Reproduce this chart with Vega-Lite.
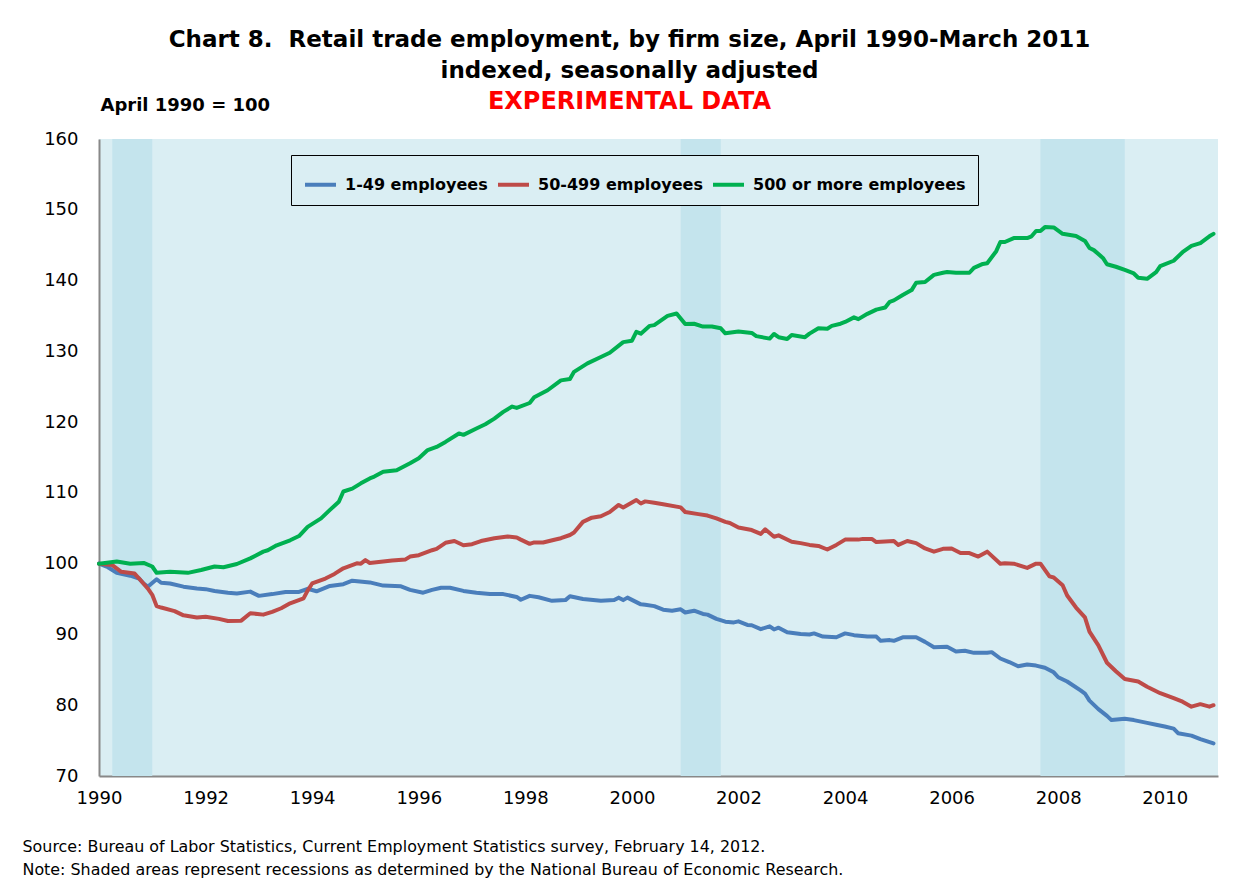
{
  "$schema": "https://vega.github.io/schema/vega-lite/v6.json",
  "width": 1119,
  "height": 637,
  "autosize": {"type": "none"},
  "padding": {"left": 99, "top": 139, "right": 37, "bottom": 114},
  "background": "white",
  "config": {
    "font": "DejaVu Sans",
    "view": {"fill": "#DAEEF3", "stroke": null},
    "axis": {"grid": false}
  },
  "title": {
    "text": ["Chart 8.\u00a0 Retail trade employment, by firm size, April 1990-March 2011", "indexed, seasonally adjusted"],
    "subtitle": "EXPERIMENTAL DATA",
    "font": "DejaVu Sans",
    "fontSize": 23,
    "fontWeight": "bold",
    "color": "black",
    "lineHeight": 31,
    "subtitleFont": "DejaVu Sans",
    "subtitleFontSize": 24,
    "subtitleFontWeight": "bold",
    "subtitleColor": "#FF0000",
    "subtitlePadding": 7,
    "anchor": "middle",
    "dx": -29,
    "offset": -18
  },
  "resolve": {"axis": {"x": "independent"}},
  "layer": [
    {
      "data": {"values": [
        {"start": "1990-07-01", "end": "1991-04-01"},
        {"start": "2001-03-01", "end": "2001-12-01"},
        {"start": "2007-12-01", "end": "2009-07-01"}
      ]},
      "mark": {"type": "rect", "color": "#C4E4ED"},
      "encoding": {
        "x": {"field": "start", "type": "temporal", "scale": {"type": "utc"}, "axis": null},
        "x2": {"field": "end"}
      }
    },
    {
      "data": {"values": [
        {"date":"1990-04","series":"1-49 employees","value":100.0},
        {"date":"1990-06","series":"1-49 employees","value":99.5},
        {"date":"1990-08","series":"1-49 employees","value":98.7},
        {"date":"1990-11","series":"1-49 employees","value":98.3},
        {"date":"1991-01","series":"1-49 employees","value":97.9},
        {"date":"1991-02","series":"1-49 employees","value":97.2},
        {"date":"1991-03","series":"1-49 employees","value":96.75},
        {"date":"1991-05","series":"1-49 employees","value":97.8},
        {"date":"1991-06","series":"1-49 employees","value":97.3},
        {"date":"1991-08","series":"1-49 employees","value":97.2},
        {"date":"1991-11","series":"1-49 employees","value":96.75},
        {"date":"1992-02","series":"1-49 employees","value":96.5},
        {"date":"1992-04","series":"1-49 employees","value":96.4},
        {"date":"1992-06","series":"1-49 employees","value":96.15},
        {"date":"1992-09","series":"1-49 employees","value":95.9},
        {"date":"1992-11","series":"1-49 employees","value":95.8},
        {"date":"1993-02","series":"1-49 employees","value":96.05},
        {"date":"1993-04","series":"1-49 employees","value":95.45},
        {"date":"1993-07","series":"1-49 employees","value":95.7},
        {"date":"1993-10","series":"1-49 employees","value":96.0},
        {"date":"1994-01","series":"1-49 employees","value":96.0},
        {"date":"1994-03","series":"1-49 employees","value":96.45},
        {"date":"1994-05","series":"1-49 employees","value":96.1},
        {"date":"1994-08","series":"1-49 employees","value":96.85},
        {"date":"1994-11","series":"1-49 employees","value":97.1},
        {"date":"1995-01","series":"1-49 employees","value":97.6},
        {"date":"1995-05","series":"1-49 employees","value":97.35},
        {"date":"1995-08","series":"1-49 employees","value":96.9},
        {"date":"1995-12","series":"1-49 employees","value":96.8},
        {"date":"1996-02","series":"1-49 employees","value":96.3},
        {"date":"1996-05","series":"1-49 employees","value":95.9},
        {"date":"1996-07","series":"1-49 employees","value":96.3},
        {"date":"1996-09","series":"1-49 employees","value":96.6},
        {"date":"1996-11","series":"1-49 employees","value":96.6},
        {"date":"1997-02","series":"1-49 employees","value":96.15},
        {"date":"1997-05","series":"1-49 employees","value":95.9},
        {"date":"1997-08","series":"1-49 employees","value":95.7},
        {"date":"1997-11","series":"1-49 employees","value":95.7},
        {"date":"1998-02","series":"1-49 employees","value":95.3},
        {"date":"1998-03","series":"1-49 employees","value":94.9},
        {"date":"1998-05","series":"1-49 employees","value":95.45},
        {"date":"1998-07","series":"1-49 employees","value":95.25},
        {"date":"1998-10","series":"1-49 employees","value":94.75},
        {"date":"1999-01","series":"1-49 employees","value":94.85},
        {"date":"1999-02","series":"1-49 employees","value":95.4},
        {"date":"1999-05","series":"1-49 employees","value":95.0},
        {"date":"1999-09","series":"1-49 employees","value":94.75},
        {"date":"1999-12","series":"1-49 employees","value":94.85},
        {"date":"2000-01","series":"1-49 employees","value":95.2},
        {"date":"2000-02","series":"1-49 employees","value":94.85},
        {"date":"2000-03","series":"1-49 employees","value":95.2},
        {"date":"2000-06","series":"1-49 employees","value":94.25},
        {"date":"2000-07","series":"1-49 employees","value":94.2},
        {"date":"2000-09","series":"1-49 employees","value":94.0},
        {"date":"2000-11","series":"1-49 employees","value":93.5},
        {"date":"2001-01","series":"1-49 employees","value":93.35},
        {"date":"2001-03","series":"1-49 employees","value":93.55},
        {"date":"2001-04","series":"1-49 employees","value":93.1},
        {"date":"2001-06","series":"1-49 employees","value":93.35},
        {"date":"2001-08","series":"1-49 employees","value":92.9},
        {"date":"2001-09","series":"1-49 employees","value":92.8},
        {"date":"2001-11","series":"1-49 employees","value":92.2},
        {"date":"2002-01","series":"1-49 employees","value":91.8},
        {"date":"2002-03","series":"1-49 employees","value":91.7},
        {"date":"2002-04","series":"1-49 employees","value":91.85},
        {"date":"2002-06","series":"1-49 employees","value":91.35},
        {"date":"2002-07","series":"1-49 employees","value":91.3},
        {"date":"2002-09","series":"1-49 employees","value":90.75},
        {"date":"2002-11","series":"1-49 employees","value":91.15},
        {"date":"2002-12","series":"1-49 employees","value":90.7},
        {"date":"2003-01","series":"1-49 employees","value":90.95},
        {"date":"2003-03","series":"1-49 employees","value":90.3},
        {"date":"2003-06","series":"1-49 employees","value":90.05},
        {"date":"2003-08","series":"1-49 employees","value":90.0},
        {"date":"2003-09","series":"1-49 employees","value":90.15},
        {"date":"2003-11","series":"1-49 employees","value":89.7},
        {"date":"2004-02","series":"1-49 employees","value":89.6},
        {"date":"2004-04","series":"1-49 employees","value":90.15},
        {"date":"2004-06","series":"1-49 employees","value":89.9},
        {"date":"2004-09","series":"1-49 employees","value":89.7},
        {"date":"2004-11","series":"1-49 employees","value":89.7},
        {"date":"2004-12","series":"1-49 employees","value":89.1},
        {"date":"2005-02","series":"1-49 employees","value":89.2},
        {"date":"2005-03","series":"1-49 employees","value":89.1},
        {"date":"2005-05","series":"1-49 employees","value":89.6},
        {"date":"2005-08","series":"1-49 employees","value":89.6},
        {"date":"2005-10","series":"1-49 employees","value":88.95},
        {"date":"2005-12","series":"1-49 employees","value":88.2},
        {"date":"2006-03","series":"1-49 employees","value":88.25},
        {"date":"2006-05","series":"1-49 employees","value":87.6},
        {"date":"2006-07","series":"1-49 employees","value":87.7},
        {"date":"2006-09","series":"1-49 employees","value":87.4},
        {"date":"2006-12","series":"1-49 employees","value":87.4},
        {"date":"2007-01","series":"1-49 employees","value":87.5},
        {"date":"2007-03","series":"1-49 employees","value":86.6},
        {"date":"2007-05","series":"1-49 employees","value":86.1},
        {"date":"2007-07","series":"1-49 employees","value":85.5},
        {"date":"2007-09","series":"1-49 employees","value":85.75},
        {"date":"2007-11","series":"1-49 employees","value":85.6},
        {"date":"2008-01","series":"1-49 employees","value":85.3},
        {"date":"2008-03","series":"1-49 employees","value":84.65},
        {"date":"2008-04","series":"1-49 employees","value":83.95},
        {"date":"2008-06","series":"1-49 employees","value":83.35},
        {"date":"2008-09","series":"1-49 employees","value":82.1},
        {"date":"2008-10","series":"1-49 employees","value":81.65},
        {"date":"2008-11","series":"1-49 employees","value":80.65},
        {"date":"2009-01","series":"1-49 employees","value":79.45},
        {"date":"2009-03","series":"1-49 employees","value":78.5},
        {"date":"2009-04","series":"1-49 employees","value":77.9},
        {"date":"2009-07","series":"1-49 employees","value":78.1},
        {"date":"2009-09","series":"1-49 employees","value":77.9},
        {"date":"2009-12","series":"1-49 employees","value":77.5},
        {"date":"2010-02","series":"1-49 employees","value":77.25},
        {"date":"2010-04","series":"1-49 employees","value":77.0},
        {"date":"2010-06","series":"1-49 employees","value":76.7},
        {"date":"2010-07","series":"1-49 employees","value":76.05},
        {"date":"2010-10","series":"1-49 employees","value":75.7},
        {"date":"2010-12","series":"1-49 employees","value":75.2},
        {"date":"2011-03","series":"1-49 employees","value":74.6},

        {"date":"1990-04","series":"50-499 employees","value":100.0},
        {"date":"1990-07","series":"50-499 employees","value":99.8},
        {"date":"1990-09","series":"50-499 employees","value":98.85},
        {"date":"1990-12","series":"50-499 employees","value":98.6},
        {"date":"1991-01","series":"50-499 employees","value":97.9},
        {"date":"1991-03","series":"50-499 employees","value":96.5},
        {"date":"1991-04","series":"50-499 employees","value":95.6},
        {"date":"1991-05","series":"50-499 employees","value":94.0},
        {"date":"1991-06","series":"50-499 employees","value":93.8},
        {"date":"1991-09","series":"50-499 employees","value":93.3},
        {"date":"1991-11","series":"50-499 employees","value":92.7},
        {"date":"1992-02","series":"50-499 employees","value":92.4},
        {"date":"1992-04","series":"50-499 employees","value":92.5},
        {"date":"1992-07","series":"50-499 employees","value":92.2},
        {"date":"1992-09","series":"50-499 employees","value":91.9},
        {"date":"1992-12","series":"50-499 employees","value":91.95},
        {"date":"1993-02","series":"50-499 employees","value":93.0},
        {"date":"1993-05","series":"50-499 employees","value":92.8},
        {"date":"1993-07","series":"50-499 employees","value":93.2},
        {"date":"1993-09","series":"50-499 employees","value":93.7},
        {"date":"1993-11","series":"50-499 employees","value":94.4},
        {"date":"1994-02","series":"50-499 employees","value":95.1},
        {"date":"1994-03","series":"50-499 employees","value":96.2},
        {"date":"1994-04","series":"50-499 employees","value":97.2},
        {"date":"1994-07","series":"50-499 employees","value":97.9},
        {"date":"1994-09","series":"50-499 employees","value":98.55},
        {"date":"1994-11","series":"50-499 employees","value":99.35},
        {"date":"1995-02","series":"50-499 employees","value":100.05},
        {"date":"1995-03","series":"50-499 employees","value":100.0},
        {"date":"1995-04","series":"50-499 employees","value":100.5},
        {"date":"1995-05","series":"50-499 employees","value":100.1},
        {"date":"1995-08","series":"50-499 employees","value":100.3},
        {"date":"1995-10","series":"50-499 employees","value":100.45},
        {"date":"1996-01","series":"50-499 employees","value":100.6},
        {"date":"1996-02","series":"50-499 employees","value":101.0},
        {"date":"1996-04","series":"50-499 employees","value":101.2},
        {"date":"1996-07","series":"50-499 employees","value":101.9},
        {"date":"1996-08","series":"50-499 employees","value":102.1},
        {"date":"1996-10","series":"50-499 employees","value":102.95},
        {"date":"1996-12","series":"50-499 employees","value":103.2},
        {"date":"1997-02","series":"50-499 employees","value":102.6},
        {"date":"1997-04","series":"50-499 employees","value":102.75},
        {"date":"1997-06","series":"50-499 employees","value":103.2},
        {"date":"1997-09","series":"50-499 employees","value":103.6},
        {"date":"1997-12","series":"50-499 employees","value":103.85},
        {"date":"1998-02","series":"50-499 employees","value":103.7},
        {"date":"1998-03","series":"50-499 employees","value":103.4},
        {"date":"1998-05","series":"50-499 employees","value":102.8},
        {"date":"1998-06","series":"50-499 employees","value":103.0},
        {"date":"1998-08","series":"50-499 employees","value":103.0},
        {"date":"1998-11","series":"50-499 employees","value":103.45},
        {"date":"1998-12","series":"50-499 employees","value":103.6},
        {"date":"1999-02","series":"50-499 employees","value":104.05},
        {"date":"1999-03","series":"50-499 employees","value":104.4},
        {"date":"1999-05","series":"50-499 employees","value":105.9},
        {"date":"1999-07","series":"50-499 employees","value":106.5},
        {"date":"1999-09","series":"50-499 employees","value":106.7},
        {"date":"1999-11","series":"50-499 employees","value":107.3},
        {"date":"2000-01","series":"50-499 employees","value":108.3},
        {"date":"2000-02","series":"50-499 employees","value":107.95},
        {"date":"2000-05","series":"50-499 employees","value":109.0},
        {"date":"2000-06","series":"50-499 employees","value":108.5},
        {"date":"2000-07","series":"50-499 employees","value":108.8},
        {"date":"2000-09","series":"50-499 employees","value":108.6},
        {"date":"2000-11","series":"50-499 employees","value":108.4},
        {"date":"2001-03","series":"50-499 employees","value":107.95},
        {"date":"2001-04","series":"50-499 employees","value":107.3},
        {"date":"2001-07","series":"50-499 employees","value":107.0},
        {"date":"2001-09","series":"50-499 employees","value":106.8},
        {"date":"2001-11","series":"50-499 employees","value":106.4},
        {"date":"2002-01","series":"50-499 employees","value":105.9},
        {"date":"2002-02","series":"50-499 employees","value":105.75},
        {"date":"2002-04","series":"50-499 employees","value":105.1},
        {"date":"2002-07","series":"50-499 employees","value":104.75},
        {"date":"2002-09","series":"50-499 employees","value":104.2},
        {"date":"2002-10","series":"50-499 employees","value":104.85},
        {"date":"2002-12","series":"50-499 employees","value":103.8},
        {"date":"2003-01","series":"50-499 employees","value":104.0},
        {"date":"2003-04","series":"50-499 employees","value":103.1},
        {"date":"2003-06","series":"50-499 employees","value":102.9},
        {"date":"2003-08","series":"50-499 employees","value":102.65},
        {"date":"2003-10","series":"50-499 employees","value":102.5},
        {"date":"2003-12","series":"50-499 employees","value":102.0},
        {"date":"2004-02","series":"50-499 employees","value":102.65},
        {"date":"2004-04","series":"50-499 employees","value":103.4},
        {"date":"2004-07","series":"50-499 employees","value":103.4},
        {"date":"2004-08","series":"50-499 employees","value":103.5},
        {"date":"2004-10","series":"50-499 employees","value":103.5},
        {"date":"2004-11","series":"50-499 employees","value":103.05},
        {"date":"2005-03","series":"50-499 employees","value":103.2},
        {"date":"2005-04","series":"50-499 employees","value":102.65},
        {"date":"2005-06","series":"50-499 employees","value":103.2},
        {"date":"2005-08","series":"50-499 employees","value":102.9},
        {"date":"2005-10","series":"50-499 employees","value":102.15},
        {"date":"2005-12","series":"50-499 employees","value":101.7},
        {"date":"2006-02","series":"50-499 employees","value":102.1},
        {"date":"2006-04","series":"50-499 employees","value":102.15},
        {"date":"2006-06","series":"50-499 employees","value":101.5},
        {"date":"2006-08","series":"50-499 employees","value":101.5},
        {"date":"2006-10","series":"50-499 employees","value":101.0},
        {"date":"2006-12","series":"50-499 employees","value":101.7},
        {"date":"2007-03","series":"50-499 employees","value":100.0},
        {"date":"2007-04","series":"50-499 employees","value":100.05},
        {"date":"2007-06","series":"50-499 employees","value":100.0},
        {"date":"2007-09","series":"50-499 employees","value":99.4},
        {"date":"2007-11","series":"50-499 employees","value":100.0},
        {"date":"2007-12","series":"50-499 employees","value":100.0},
        {"date":"2008-02","series":"50-499 employees","value":98.2},
        {"date":"2008-03","series":"50-499 employees","value":98.05},
        {"date":"2008-05","series":"50-499 employees","value":96.95},
        {"date":"2008-06","series":"50-499 employees","value":95.5},
        {"date":"2008-08","series":"50-499 employees","value":93.8},
        {"date":"2008-10","series":"50-499 employees","value":92.4},
        {"date":"2008-11","series":"50-499 employees","value":90.4},
        {"date":"2009-01","series":"50-499 employees","value":88.45},
        {"date":"2009-03","series":"50-499 employees","value":86.0},
        {"date":"2009-05","series":"50-499 employees","value":84.8},
        {"date":"2009-07","series":"50-499 employees","value":83.7},
        {"date":"2009-10","series":"50-499 employees","value":83.35},
        {"date":"2009-12","series":"50-499 employees","value":82.6},
        {"date":"2010-03","series":"50-499 employees","value":81.7},
        {"date":"2010-06","series":"50-499 employees","value":81.0},
        {"date":"2010-08","series":"50-499 employees","value":80.5},
        {"date":"2010-10","series":"50-499 employees","value":79.8},
        {"date":"2010-12","series":"50-499 employees","value":80.15},
        {"date":"2011-02","series":"50-499 employees","value":79.8},
        {"date":"2011-03","series":"50-499 employees","value":80.0},

        {"date":"1990-04","series":"500 or more employees","value":100.0},
        {"date":"1990-08","series":"500 or more employees","value":100.3},
        {"date":"1990-11","series":"500 or more employees","value":100.0},
        {"date":"1991-02","series":"500 or more employees","value":100.1},
        {"date":"1991-04","series":"500 or more employees","value":99.6},
        {"date":"1991-05","series":"500 or more employees","value":98.7},
        {"date":"1991-08","series":"500 or more employees","value":98.85},
        {"date":"1991-12","series":"500 or more employees","value":98.7},
        {"date":"1992-03","series":"500 or more employees","value":99.1},
        {"date":"1992-06","series":"500 or more employees","value":99.6},
        {"date":"1992-08","series":"500 or more employees","value":99.5},
        {"date":"1992-11","series":"500 or more employees","value":99.95},
        {"date":"1993-02","series":"500 or more employees","value":100.75},
        {"date":"1993-05","series":"500 or more employees","value":101.7},
        {"date":"1993-06","series":"500 or more employees","value":101.9},
        {"date":"1993-08","series":"500 or more employees","value":102.6},
        {"date":"1993-11","series":"500 or more employees","value":103.3},
        {"date":"1994-01","series":"500 or more employees","value":103.9},
        {"date":"1994-03","series":"500 or more employees","value":105.2},
        {"date":"1994-06","series":"500 or more employees","value":106.4},
        {"date":"1994-08","series":"500 or more employees","value":107.6},
        {"date":"1994-10","series":"500 or more employees","value":108.75},
        {"date":"1994-11","series":"500 or more employees","value":110.2},
        {"date":"1995-01","series":"500 or more employees","value":110.6},
        {"date":"1995-03","series":"500 or more employees","value":111.35},
        {"date":"1995-05","series":"500 or more employees","value":112.05},
        {"date":"1995-06","series":"500 or more employees","value":112.3},
        {"date":"1995-08","series":"500 or more employees","value":113.0},
        {"date":"1995-11","series":"500 or more employees","value":113.2},
        {"date":"1996-02","series":"500 or more employees","value":114.2},
        {"date":"1996-04","series":"500 or more employees","value":114.9},
        {"date":"1996-06","series":"500 or more employees","value":116.05},
        {"date":"1996-08","series":"500 or more employees","value":116.5},
        {"date":"1996-10","series":"500 or more employees","value":117.2},
        {"date":"1997-01","series":"500 or more employees","value":118.4},
        {"date":"1997-02","series":"500 or more employees","value":118.2},
        {"date":"1997-05","series":"500 or more employees","value":119.1},
        {"date":"1997-07","series":"500 or more employees","value":119.7},
        {"date":"1997-09","series":"500 or more employees","value":120.5},
        {"date":"1997-11","series":"500 or more employees","value":121.45},
        {"date":"1998-01","series":"500 or more employees","value":122.2},
        {"date":"1998-02","series":"500 or more employees","value":122.0},
        {"date":"1998-05","series":"500 or more employees","value":122.7},
        {"date":"1998-06","series":"500 or more employees","value":123.5},
        {"date":"1998-09","series":"500 or more employees","value":124.5},
        {"date":"1998-12","series":"500 or more employees","value":125.9},
        {"date":"1999-02","series":"500 or more employees","value":126.1},
        {"date":"1999-03","series":"500 or more employees","value":127.1},
        {"date":"1999-06","series":"500 or more employees","value":128.3},
        {"date":"1999-09","series":"500 or more employees","value":129.2},
        {"date":"1999-11","series":"500 or more employees","value":129.8},
        {"date":"2000-02","series":"500 or more employees","value":131.3},
        {"date":"2000-04","series":"500 or more employees","value":131.5},
        {"date":"2000-05","series":"500 or more employees","value":132.75},
        {"date":"2000-06","series":"500 or more employees","value":132.5},
        {"date":"2000-08","series":"500 or more employees","value":133.6},
        {"date":"2000-09","series":"500 or more employees","value":133.7},
        {"date":"2000-12","series":"500 or more employees","value":135.0},
        {"date":"2001-02","series":"500 or more employees","value":135.35},
        {"date":"2001-04","series":"500 or more employees","value":133.85},
        {"date":"2001-06","series":"500 or more employees","value":133.9},
        {"date":"2001-08","series":"500 or more employees","value":133.5},
        {"date":"2001-10","series":"500 or more employees","value":133.5},
        {"date":"2001-12","series":"500 or more employees","value":133.25},
        {"date":"2002-01","series":"500 or more employees","value":132.55},
        {"date":"2002-04","series":"500 or more employees","value":132.8},
        {"date":"2002-07","series":"500 or more employees","value":132.6},
        {"date":"2002-08","series":"500 or more employees","value":132.15},
        {"date":"2002-11","series":"500 or more employees","value":131.8},
        {"date":"2002-12","series":"500 or more employees","value":132.45},
        {"date":"2003-01","series":"500 or more employees","value":132.0},
        {"date":"2003-03","series":"500 or more employees","value":131.75},
        {"date":"2003-04","series":"500 or more employees","value":132.3},
        {"date":"2003-07","series":"500 or more employees","value":132.0},
        {"date":"2003-08","series":"500 or more employees","value":132.5},
        {"date":"2003-10","series":"500 or more employees","value":133.25},
        {"date":"2003-12","series":"500 or more employees","value":133.2},
        {"date":"2004-01","series":"500 or more employees","value":133.6},
        {"date":"2004-03","series":"500 or more employees","value":133.9},
        {"date":"2004-04","series":"500 or more employees","value":134.15},
        {"date":"2004-06","series":"500 or more employees","value":134.8},
        {"date":"2004-07","series":"500 or more employees","value":134.55},
        {"date":"2004-09","series":"500 or more employees","value":135.3},
        {"date":"2004-11","series":"500 or more employees","value":135.9},
        {"date":"2005-01","series":"500 or more employees","value":136.2},
        {"date":"2005-02","series":"500 or more employees","value":137.0},
        {"date":"2005-03","series":"500 or more employees","value":137.2},
        {"date":"2005-05","series":"500 or more employees","value":137.95},
        {"date":"2005-07","series":"500 or more employees","value":138.65},
        {"date":"2005-08","series":"500 or more employees","value":139.7},
        {"date":"2005-10","series":"500 or more employees","value":139.8},
        {"date":"2005-12","series":"500 or more employees","value":140.8},
        {"date":"2006-02","series":"500 or more employees","value":141.1},
        {"date":"2006-03","series":"500 or more employees","value":141.2},
        {"date":"2006-05","series":"500 or more employees","value":141.1},
        {"date":"2006-08","series":"500 or more employees","value":141.1},
        {"date":"2006-09","series":"500 or more employees","value":141.8},
        {"date":"2006-11","series":"500 or more employees","value":142.35},
        {"date":"2006-12","series":"500 or more employees","value":142.45},
        {"date":"2007-02","series":"500 or more employees","value":144.15},
        {"date":"2007-03","series":"500 or more employees","value":145.45},
        {"date":"2007-04","series":"500 or more employees","value":145.45},
        {"date":"2007-06","series":"500 or more employees","value":146.0},
        {"date":"2007-09","series":"500 or more employees","value":146.0},
        {"date":"2007-10","series":"500 or more employees","value":146.25},
        {"date":"2007-11","series":"500 or more employees","value":147.0},
        {"date":"2007-12","series":"500 or more employees","value":147.0},
        {"date":"2008-01","series":"500 or more employees","value":147.55},
        {"date":"2008-03","series":"500 or more employees","value":147.5},
        {"date":"2008-05","series":"500 or more employees","value":146.6},
        {"date":"2008-08","series":"500 or more employees","value":146.3},
        {"date":"2008-10","series":"500 or more employees","value":145.6},
        {"date":"2008-11","series":"500 or more employees","value":144.6},
        {"date":"2008-12","series":"500 or more employees","value":144.3},
        {"date":"2009-02","series":"500 or more employees","value":143.2},
        {"date":"2009-03","series":"500 or more employees","value":142.3},
        {"date":"2009-05","series":"500 or more employees","value":141.95},
        {"date":"2009-07","series":"500 or more employees","value":141.5},
        {"date":"2009-09","series":"500 or more employees","value":141.0},
        {"date":"2009-10","series":"500 or more employees","value":140.4},
        {"date":"2009-12","series":"500 or more employees","value":140.25},
        {"date":"2010-02","series":"500 or more employees","value":141.2},
        {"date":"2010-03","series":"500 or more employees","value":142.05},
        {"date":"2010-06","series":"500 or more employees","value":142.8},
        {"date":"2010-08","series":"500 or more employees","value":144.0},
        {"date":"2010-10","series":"500 or more employees","value":144.9},
        {"date":"2010-12","series":"500 or more employees","value":145.3},
        {"date":"2011-02","series":"500 or more employees","value":146.25},
        {"date":"2011-03","series":"500 or more employees","value":146.6}
      ]},
      "mark": {"type": "line", "strokeWidth": 4, "strokeJoin": "round", "strokeCap": "round"},
      "encoding": {
        "x": {
          "field": "date", "type": "temporal",
          "scale": {"type": "utc", "domain": [{"year": 1990, "month": 4, "date": 1, "utc": true}, {"year": 2011, "month": 4, "date": 1, "utc": true}]},
          "axis": {
            "values": [
              {"year": 1990, "month": 4, "date": 1, "utc": true},
              {"year": 1992, "month": 4, "date": 1, "utc": true},
              {"year": 1994, "month": 4, "date": 1, "utc": true},
              {"year": 1996, "month": 4, "date": 1, "utc": true},
              {"year": 1998, "month": 4, "date": 1, "utc": true},
              {"year": 2000, "month": 4, "date": 1, "utc": true},
              {"year": 2002, "month": 4, "date": 1, "utc": true},
              {"year": 2004, "month": 4, "date": 1, "utc": true},
              {"year": 2006, "month": 4, "date": 1, "utc": true},
              {"year": 2008, "month": 4, "date": 1, "utc": true},
              {"year": 2010, "month": 4, "date": 1, "utc": true}
            ],
            "format": "%Y",
            "labelFont": "DejaVu Sans",
            "labelFontSize": 18,
            "labelColor": "black",
            "labelPadding": 13,
            "labelFlush": false,
            "labelOverlap": false,
            "ticks": false,
            "tickSize": 0,
            "domainColor": "#888888",
            "domainWidth": 2,
            "grid": false,
            "title": ["Source: Bureau of Labor Statistics, Current Employment Statistics survey, February 14, 2012.", "Note: Shaded areas represent recessions as determined by the National Bureau of Economic Research."],
            "titleFont": "DejaVu Sans",
            "titleFontSize": 15.9,
            "titleFontWeight": "normal",
            "titleColor": "black",
            "titleAlign": "left",
            "titleAnchor": "start",
            "titleBaseline": "top",
            "titleLineHeight": 23,
            "titleX": -77,
            "titleY": 62
          }
        },
        "y": {
          "field": "value", "type": "quantitative",
          "scale": {"domain": [70, 160], "nice": false, "zero": false},
          "axis": {
            "values": [70, 80, 90, 100, 110, 120, 130, 140, 150, 160],
            "labelFont": "DejaVu Sans",
            "labelFontSize": 18,
            "labelColor": "black",
            "labelPadding": 21,
            "ticks": false,
            "tickSize": 0,
            "domainColor": "#888888",
            "domainWidth": 2,
            "grid": false,
            "title": "April 1990 = 100",
            "titleFont": "DejaVu Sans",
            "titleFontSize": 18,
            "titleFontWeight": "bold",
            "titleColor": "black",
            "titleAngle": 0,
            "titleAlign": "left",
            "titleBaseline": "middle",
            "titleX": 1,
            "titleY": -34
          }
        },
        "color": {
          "field": "series", "type": "nominal",
          "scale": {"domain": ["1-49 employees", "50-499 employees", "500 or more employees"], "range": ["#4A7EBB", "#BE4B48", "#00B050"]},
          "legend": {
            "title": null,
            "orient": "none",
            "legendX": 192,
            "legendY": 16,
            "direction": "horizontal",
            "symbolType": "stroke",
            "symbolSize": 961,
            "symbolStrokeWidth": 4,
            "labelFont": "DejaVu Sans",
            "labelFontSize": 16,
            "labelFontWeight": "bold",
            "labelColor": "black",
            "labelOffset": 7,
            "labelLimit": 400,
            "columnPadding": 2,
            "padding": 12,
            "strokeColor": "black",
            "fillColor": "#DAEEF3"
          }
        }
      }
    }
  ]
}
